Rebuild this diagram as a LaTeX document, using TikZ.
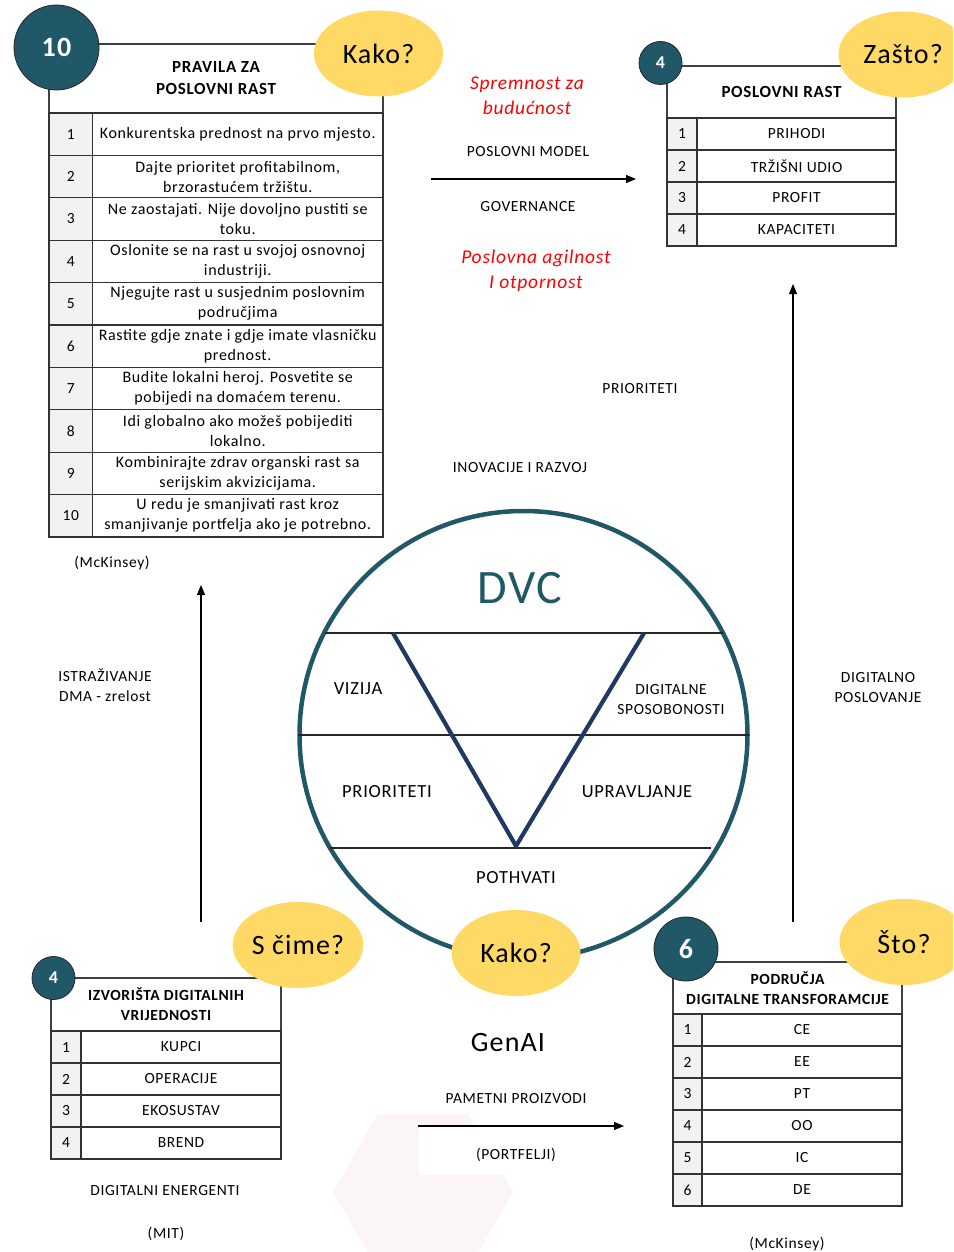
\documentclass[tikz,border=0pt]{standalone}
\usepackage{fontspec}
\setmainfont{Carlito}[LetterSpace=4]
\usetikzlibrary{shapes.geometric,arrows.meta}
\definecolor{dvcteal}{RGB}{33,88,103}
\definecolor{vnavy}{RGB}{31,56,100}
\definecolor{askyellow}{RGB}{255,217,102}
\definecolor{cellgray}{RGB}{242,242,242}
\definecolor{hexpink}{RGB}{252,245,245}

\begin{document}
\begin{tikzpicture}[x=1pt,y=-1pt,
                        badge/.style={circle,draw=black!85,line width=0.8,fill=dvcteal,text=white,inner sep=0},
                        ask/.style={ellipse,fill=askyellow,minimum width=129,minimum height=86,inner sep=0,font=\fontsize{28}{30}\selectfont},
                        headbox/.style={draw=black!75,line width=1.1,align=center,inner sep=0},
                        numcell/.style={draw=black!80,line width=1.1,fill=cellgray,inner sep=0},
                        txtcell/.style={draw=black!80,line width=1.1,inner sep=0,align=center},
                        lbl/.style={font=\fontsize{15.5}{20}\selectfont,align=center},
                        inlbl/.style={font=\fontsize{18.5}{20}\selectfont,align=center},
                        redlbl/.style={text=red,font=\itshape\fontsize{19.5}{25}\selectfont,align=center},
                        flow/.style={line width=1.1,-{Triangle[length=10pt,width=8pt]}},
                        chord/.style={line width=1.1,black!85},
                        vline/.style={line width=4.2,vnavy,line join=round}
                        ]
    \useasboundingbox (0,0) rectangle (953,1252);
    \clip (0,0) rectangle (953,1252);

    % faint hexagon behind the bottom arrow
    \node[regular polygon,regular polygon sides=6,minimum size=180,inner sep=0,fill=hexpink] (hex) at (423,1192) {};
    \fill[white] (419,1125) rectangle (613,1175);

    % --- pravila za poslovni rast (top left)
    \def\rh{42.4}
    \node[headbox,minimum width=334,minimum height=69,font=\bfseries\fontsize{17}{22}\selectfont] (pravila) at (216,78.5) {PRAVILA ZA\\POSLOVNI RAST};
    \foreach \i/\txt in {1/{Konkurentska prednost na prvo mjesto.},
                         2/{Dajte prioritet profitabilnom,\\brzorastućem tržištu.},
                         3/{Ne zaostajati. Nije dovoljno pustiti se\\toku.},
                         4/{Oslonite se na rast u svojoj osnovnoj\\industriji.},
                         5/{Njegujte rast u susjednim poslovnim\\područjima},
                         6/{Rastite gdje znate i gdje imate vlasničku\\prednost.},
                         7/{Budite lokalni heroj. Posvetite se\\pobijedi na domaćem terenu.},
                         8/{Idi globalno ako možeš pobijediti\\lokalno.},
                         9/{Kombinirajte zdrav organski rast sa\\serijskim akvizicijama.},
                         10/{U redu je smanjivati rast kroz\\smanjivanje portfelja ako je potrebno.}} {
        \node[numcell,minimum width=43.5,minimum height=\rh,font=\fontsize{15.5}{20}\selectfont] (pn\i) at (70.75,{113+\rh*\i-\rh/2}) {\i};
        \node[txtcell,minimum width=290.5,minimum height=\rh,font=\fontsize{16}{20}\selectfont] (pt\i) at (237.75,{113+\rh*\i-\rh/2}) {\txt};
    }
    \node[badge,minimum size=85,font=\bfseries\fontsize{28}{30}\selectfont] (ten) at (56.5,47.5) {10};
    \node[ask] (kakoA) at (378.5,53.5) {Kako?};
    \node[lbl] (mckA) at (112,563) {(McKinsey)};

    % --- poslovni rast (top right)
    \node[headbox,minimum width=229,minimum height=52,font=\bfseries\fontsize{17}{22}\selectfont] (rast) at (781.5,92) {POSLOVNI RAST};
    \foreach \i/\txt in {1/PRIHODI,2/TRŽIŠNI UDIO,3/PROFIT,4/KAPACITETI} {
        \node[numcell,minimum width=30,minimum height=32,lbl] (rn\i) at (682,{118+32*\i-16}) {\i};
        \node[txtcell,minimum width=199,minimum height=32,lbl] (rt\i) at (796.5,{118+32*\i-16}) {\txt};
    }
    \node[badge,minimum size=43,font=\bfseries\fontsize{18}{20}\selectfont] (fourA) at (660.5,63) {4};
    \node[ask] (zasto) at (903,54.5) {Zašto?};

    % --- labels between the top tables
    \node[redlbl] (spremnost) at (527,96) {Spremnost za\\budućnost};
    \node[lbl] (model) at (528,152) {POSLOVNI MODEL};
    \coordinate (modelA) at (431,179);
    \coordinate (modelB) at (636,179);
    \draw[flow] (modelA) -- (modelB);
    \node[lbl] (gov) at (528,207) {GOVERNANCE};
    \node[redlbl] (agilnost) at (536,271) {Poslovna agilnost\\I otpornost};
    \node[lbl] (prioA) at (640,389) {PRIORITETI};
    \node[lbl] (inov) at (520,468) {INOVACIJE I RAZVOJ};

    % --- side arrows
    \coordinate (istA) at (201,922);
    \coordinate (istB) at (201,585);
    \draw[flow] (istA) -- (istB);
    \node[lbl] (istr) at (105,685) {ISTRAŽIVANJE\\DMA - zrelost};
    \coordinate (digA) at (793,922);
    \coordinate (digB) at (793,284);
    \draw[flow] (digA) -- (digB);
    \node[lbl] (digpos) at (878,688) {DIGITALNO\\POSLOVANJE};

    % --- DVC circle
    \node[circle,draw=dvcteal,line width=4.5,minimum size=448,inner sep=0] (dvc) at (523.5,735) {};
    \foreach \y/\a/\b in {633/325/723, 735/298/749, 848/330/711} {
        \draw[chord] (\a,\y) -- (\b,\y);
    }
    \coordinate (vl) at (393,633);
    \coordinate (vb) at (516,846);
    \coordinate (vr) at (644,633);
    \draw[vline] (vl) -- (vb) -- (vr);
    \node[text=dvcteal,font=\fontsize{48}{50}\selectfont] (dvct) at (520,588) {DVC};
    \node[inlbl] (vizija) at (358,689) {VIZIJA};
    \node[lbl] (sposob) at (671,700) {DIGITALNE\\SPOSOBONOSTI};
    \node[inlbl] (prioB) at (387,792) {PRIORITETI};
    \node[inlbl] (upr) at (637,792) {UPRAVLJANJE};
    \node[inlbl] (pothvati) at (516,878) {POTHVATI};

    % --- izvorista digitalnih vrijednosti (bottom left)
    \node[headbox,minimum width=230,minimum height=53,font=\bfseries\fontsize{15.5}{20}\selectfont] (izvor) at (166,1004.5) {IZVORIŠTA DIGITALNIH\\VRIJEDNOSTI};
    \foreach \i/\txt in {1/KUPCI,2/OPERACIJE,3/EKOSUSTAV,4/BREND} {
        \node[numcell,minimum width=30,minimum height=32,lbl] (in\i) at (66,{1031+32*\i-16}) {\i};
        \node[txtcell,minimum width=200,minimum height=32,lbl] (it\i) at (181,{1031+32*\i-16}) {\txt};
    }
    \node[badge,minimum size=43,font=\bfseries\fontsize{18}{20}\selectfont] (fourB) at (53.5,978) {4};
    \node[ask] (scime) at (298,945) {S čime?};
    \node[lbl] (energ) at (165,1191) {DIGITALNI ENERGENTI};
    \node[lbl] (mit) at (166,1234) {(MIT)};

    % --- centre bottom
    \node[ask] (kakoB) at (516,953) {Kako?};
    \node[font=\fontsize{28}{30}\selectfont] (genai) at (508,1042) {GenAI};
    \node[lbl] (pametni) at (516,1099) {PAMETNI PROIZVODI};
    \coordinate (pamA) at (418,1126);
    \coordinate (pamB) at (624,1126);
    \draw[flow] (pamA) -- (pamB);
    \node[lbl] (portf) at (516,1155) {(PORTFELJI)};

    % --- podrucja digitalne transformacije (bottom right)
    \node[headbox,minimum width=229,minimum height=52,font=\bfseries\fontsize{15.5}{20}\selectfont] (podr) at (787.5,988) {PODRUČJA\\DIGITALNE TRANSFORAMCIJE};
    \foreach \i/\txt in {1/CE,2/EE,3/PT,4/OO,5/IC,6/DE} {
        \node[numcell,minimum width=29,minimum height=32,lbl] (dn\i) at (687.5,{1014+32*\i-16}) {\i};
        \node[txtcell,minimum width=200,minimum height=32,lbl] (dt\i) at (802,{1014+32*\i-16}) {\txt};
    }
    \node[badge,minimum size=64,font=\bfseries\fontsize{28}{30}\selectfont] (six) at (686,949) {6};
    \node[ask] (sto) at (904,942) {Što?};
    \node[lbl] (mckB) at (787,1244) {(McKinsey)};
\end{tikzpicture}
\end{document}
